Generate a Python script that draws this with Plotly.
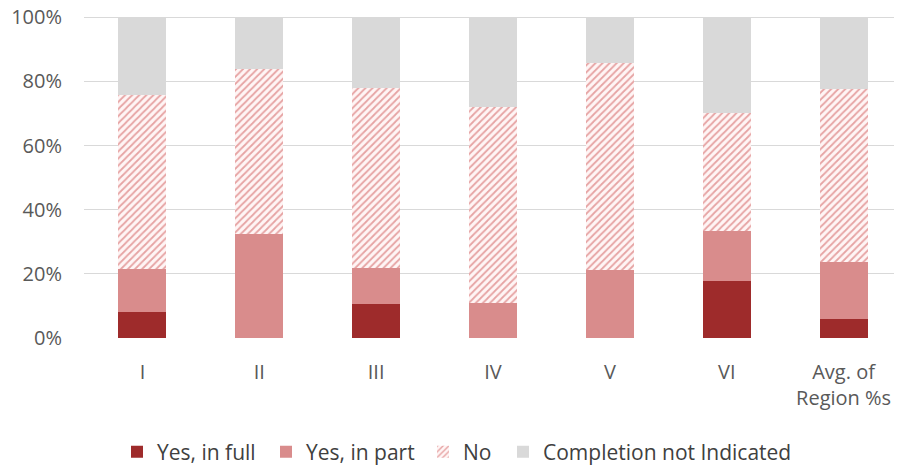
import plotly.graph_objects as go

categories = ["I", "II", "III", "IV", "V", "VI", "Avg. of<br>Region %s"]
yes_full = [8.2, 0.0, 10.6, 0.0, 0.0, 17.8, 6.0]
yes_part = [13.4, 32.3, 11.3, 11.0, 21.2, 15.5, 17.6]
no_vals = [54.1, 51.5, 55.9, 60.9, 64.6, 36.8, 54.0]
not_ind = [24.3, 16.2, 22.2, 28.1, 14.2, 29.9, 22.4]

def frac(v):
    return [x / 100 for x in v]

FONT = "Open Sans, Lato, sans-serif"
W, H = 894, 458

fig = go.Figure()
fig.add_bar(x=categories, y=frac(yes_full), name="Yes, in full", legend="legend",
            marker=dict(color="#9E2B2B", line=dict(width=0)))
fig.add_bar(x=categories, y=frac(yes_part), name="Yes, in part", legend="legend2",
            marker=dict(color="#D98C8C", line=dict(width=0)))
fig.add_bar(x=categories, y=frac(no_vals), name="No", legend="legend3",
            marker=dict(color="#FFFFFF", line=dict(width=0),
                        pattern=dict(shape="/", fgcolor="#E6A3A3", bgcolor="#FFF5F5",
                                     size=5, solidity=0.35, fillmode="replace")))
fig.add_bar(x=categories, y=frac(not_ind), name="Completion not Indicated", legend="legend4",
            marker=dict(color="#D9D9D9", line=dict(width=0)))

def leg(left_px):
    return dict(orientation="h", xref="container", yref="container",
                x=left_px / W, xanchor="left", y=14 / H, yanchor="middle",
                font=dict(family=FONT, size=21, color="#404040"), itemwidth=30,
                bgcolor="rgba(0,0,0,0)")

fig.update_layout(
    barmode="stack",
    bargap=0.59,
    width=W, height=H,
    margin=dict(l=76, r=0, t=8, b=128),
    paper_bgcolor="white", plot_bgcolor="white",
    font=dict(family=FONT, size=20, color="#595959"),
    showlegend=True,
    legend=leg(109),
    legend2=leg(258),
    legend3=leg(415),
    legend4=leg(495),
    xaxis=dict(showgrid=False, showline=False, ticks="", tickfont=dict(size=20),
               ticklabelstandoff=20, automargin=False),
    yaxis=dict(range=[0, 1.004], tickvals=[0, 0.2, 0.4, 0.6, 0.8, 1.0], tickformat=".0%",
               showgrid=True, gridcolor="#D9D9D9", gridwidth=1, zeroline=False,
               showline=False, ticks="", ticklabelstandoff=21, tickfont=dict(size=20),
               ticklabeloverflow="allow", automargin=False),
)

fig.write_html("out.html")
